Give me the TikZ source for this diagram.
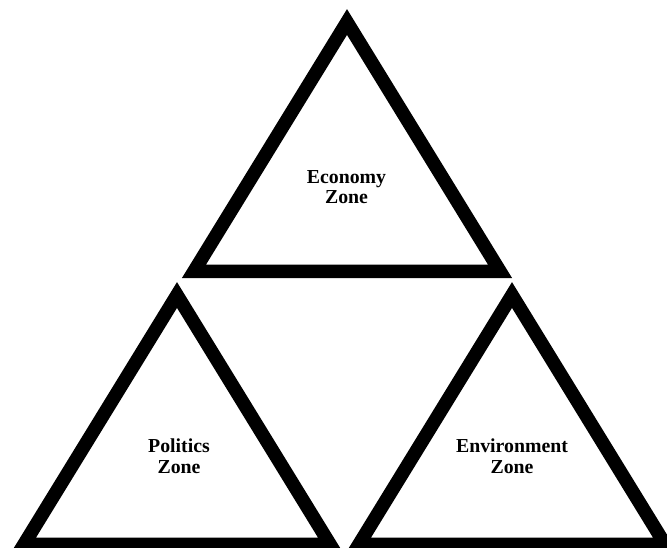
\documentclass[tikz,border=0pt]{standalone}
\usepackage{fontspec}
\setmainfont{Liberation Serif}
\begin{document}
\begin{tikzpicture}[x=1pt,y=-1pt,
  zone/.style={draw=black,line width=13.5pt,miter limit=10,line join=miter},
  zonelabel/.style={font=\bfseries\fontsize{19.8}{20.5}\selectfont,align=center,inner sep=0pt,text=black}]
  \path[use as bounding box,clip] (0,0) rectangle (667,547);
  \fill[white] (0,0) rectangle (667,547);
  % top triangle
  \coordinate (ea) at (347,22);
  \coordinate (el) at (194,271.25);
  \coordinate (er) at (500,271.25);
  \draw[zone] (ea) -- (el) -- (er) -- cycle;
  % lower left triangle
  \coordinate (pa) at (177,295);
  \coordinate (pl) at (24,544.25);
  \coordinate (pr) at (330,544.25);
  \draw[zone] (pa) -- (pl) -- (pr) -- cycle;
  % lower right triangle
  \coordinate (va) at (512,295);
  \coordinate (vl) at (359,544.25);
  \coordinate (vr) at (665,544.25);
  \draw[zone] (va) -- (vl) -- (vr) -- cycle;
  % labels
  \node[zonelabel] (economy) at (346.5,187) {Economy\\Zone};
  \node[zonelabel] (politics) at (179,456) {Politics\\Zone};
  \node[zonelabel] (environment) at (512,456) {Environment\\Zone};
\end{tikzpicture}
\end{document}
